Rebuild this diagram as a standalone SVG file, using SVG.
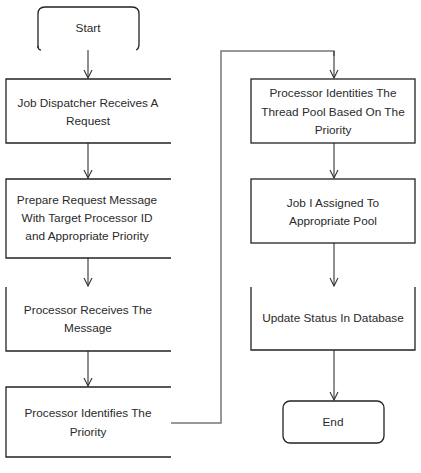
<svg xmlns="http://www.w3.org/2000/svg" width="421" height="473" viewBox="0 0 421 473">
<defs>
<style>
.box{fill:none;stroke:#222;stroke-width:1.3}
.t{font-family:"Liberation Sans",Arial,sans-serif;font-size:11.8px;fill:#2a2a2a;text-anchor:middle}
.c{fill:none;stroke:#333;stroke-width:1.1}
.g{fill:none;stroke:#777;stroke-width:1.5}
</style>
<marker id="ah" viewBox="0 0 10 10" refX="9" refY="5" markerWidth="10" markerHeight="10" markerUnits="userSpaceOnUse" orient="auto">
<path d="M1,1 L9,5 L1,9" fill="none" stroke="#333" stroke-width="1.1"/>
</marker>
</defs>
<rect width="421" height="473" fill="#fff"/>
<g id="connectors">
<line class="c" x1="88" y1="50" x2="88" y2="78" marker-end="url(#ah)"/>
<line class="c" x1="88" y1="143" x2="88" y2="178" marker-end="url(#ah)"/>
<line class="c" x1="88" y1="258" x2="88" y2="286" marker-end="url(#ah)"/>
<line class="c" x1="88" y1="351" x2="88" y2="386" marker-end="url(#ah)"/>
<polyline class="g" points="171,423 221,423 221,51 334,51 334,56"/>
<line class="c" x1="334" y1="51" x2="334" y2="78" marker-end="url(#ah)"/>
<line class="c" x1="334" y1="143" x2="334" y2="178" marker-end="url(#ah)"/>
<line class="c" x1="334" y1="243" x2="334" y2="286" marker-end="url(#ah)"/>
<line class="c" x1="334" y1="350" x2="334" y2="400" marker-end="url(#ah)"/>
</g>
<g id="start">
<path class="box" d="M38,48 L38,14 Q38,7 45,7 L132,7 Q139,7 139,14 L139,44 Q139,49 136,50"/>
<path class="box" d="M38,46 Q38,50 41,50"/>
<text class="t" x="88" y="32">Start</text>
</g>
<g id="n1">
<polyline class="box" points="171,79 6,79 6,143 171,143"/>
<text class="t" x="88" y="107">Job Dispatcher Receives A</text>
<text class="t" x="88" y="125">Request</text>
</g>
<g id="n2">
<polyline class="box" points="171,179 6,179 6,258 171,258"/>
<text class="t" x="87" y="204">Prepare Request Message</text>
<text class="t" x="87" y="222">With Target Processor ID</text>
<text class="t" x="87" y="240">and Appropriate Priority</text>
</g>
<g id="n3">
<polyline class="box" points="6,287 6,351 171,351"/>
<text class="t" x="88" y="314">Processor Receives The</text>
<text class="t" x="88" y="332">Message</text>
</g>
<g id="n4">
<polyline class="box" points="171,387 6,387 6,457 171,457"/>
<text class="t" x="88" y="417">Processor Identifies The</text>
<text class="t" x="88" y="436">Priority</text>
</g>
<g id="r1">
<rect class="box" x="251" y="79" width="164" height="64"/>
<text class="t" x="333" y="97">Processor Identities  The</text>
<text class="t" x="333" y="116">Thread Pool Based On The</text>
<text class="t" x="333" y="134">Priority</text>
</g>
<g id="r2">
<rect class="box" x="251" y="179" width="164" height="64"/>
<text class="t" x="333" y="207">Job I Assigned To</text>
<text class="t" x="333" y="225">Appropriate Pool</text>
</g>
<g id="r3">
<polyline class="box" points="251,287 251,350 415,350 415,287"/>
<text class="t" x="333" y="322">Update Status In Database</text>
</g>
<g id="end">
<rect class="box" x="283" y="401" width="101" height="42" rx="7"/>
<text class="t" x="333" y="426">End</text>
</g>
</svg>
